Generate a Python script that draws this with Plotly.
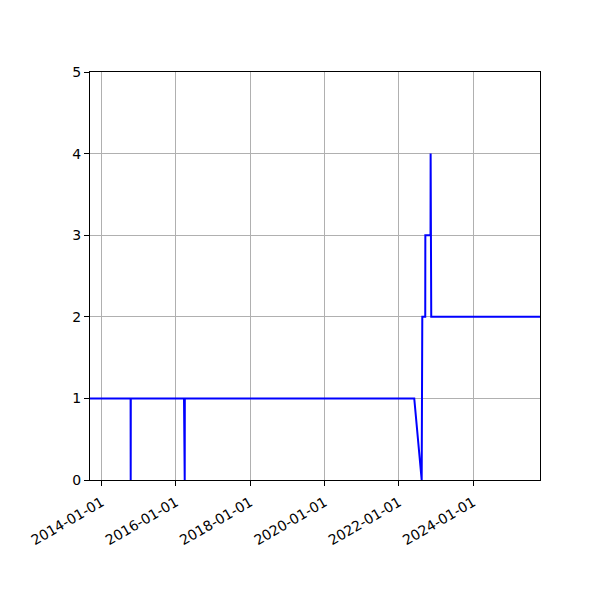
import plotly.graph_objects as go

# 날짜별 값
dates = [
    "2013-09-08", "2014-10-12", "2014-10-13", "2014-10-14",
    "2016-03-20", "2016-03-21", "2016-03-27", "2016-03-28",
    "2022-05-31", "2022-08-12", "2022-08-18", "2022-09-16",
    "2022-09-17", "2022-11-07", "2022-11-08", "2022-11-14",
    "2025-10-18",
]
values = [
    1, 1, 0, 1,
    1, 0, 0, 1,
    1, 0, 2, 2,
    3, 3, 4, 2,
    2,
]

tick_dates = ["2014-01-01", "2016-01-01", "2018-01-01",
              "2020-01-01", "2022-01-01", "2024-01-01"]
x_range = ["2013-09-08", "2025-10-18"]
y_range = [0, 5]

fig = go.Figure()

fig.add_trace(go.Scatter(
    x=dates,
    y=values,
    mode="lines",
    line=dict(color="blue", width=2),
    showlegend=False,
))

axis_style = dict(
    showline=True,
    linecolor="black",
    linewidth=1.1,
    mirror=True,
    ticks="outside",
    ticklen=5,
    tickwidth=1.1,
    tickcolor="black",
    showgrid=True,
    gridcolor="#b0b0b0",
    gridwidth=1.1,
    zeroline=False,
)

fig.update_xaxes(
    type="date",
    range=x_range,
    tickvals=tick_dates,
    tickformat="%Y-%m-%d",
    tickangle=-30,
    ticklabelstandoff=3,
    **axis_style
)
fig.update_yaxes(
    range=y_range,
    dtick=1,
    **axis_style
)

# 페이지 본문 여백(8px)을 감안한 여백
fig.update_layout(
    width=600,
    height=600,
    margin=dict(l=82, r=68, t=64, b=128),
    plot_bgcolor="white",
    paper_bgcolor="white",
    font=dict(family="DejaVu Sans", size=14, color="black"),
)

fig.write_html("out.html")
